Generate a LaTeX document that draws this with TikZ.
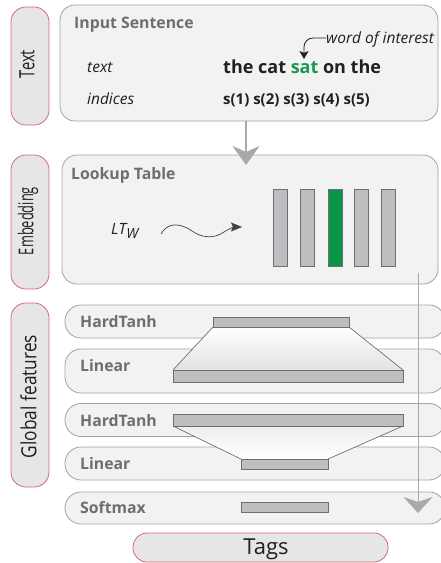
\documentclass[tikz,border=0pt]{standalone}
\usepackage{fontspec}
\setmainfont{Open Sans}
\usepackage{graphicx}
\usetikzlibrary{arrows.meta}
\definecolor{boxfill}{HTML}{F2F2F2}
\definecolor{boxline}{HTML}{A3A3A3}
\definecolor{pillfill}{HTML}{E6E6E7}
\definecolor{pillline}{HTML}{D9656F}
\definecolor{bargrey}{HTML}{BCBEC0}
\definecolor{barline}{HTML}{6D6E71}
\definecolor{labgrey}{HTML}{6D6E71}
\definecolor{arrgrey}{HTML}{A7A9AC}
\definecolor{dgreen}{HTML}{0A9447}
\definecolor{tgreen}{HTML}{1A9A50}
\definecolor{ink}{HTML}{231F20}
\definecolor{trapgrey}{HTML}{E2E2E3}
\begin{document}
\begin{tikzpicture}[x=1pt,y=-1pt,
  sidepill/.style={draw=pillline, fill=pillfill, line width=0.8pt, rounded corners=15pt, inner sep=0pt, outer sep=0pt},
  sidelab/.style={inner sep=0pt, text=ink},
  bigbox/.style={draw=boxline, fill=boxfill, line width=0.8pt, rounded corners=15pt, inner sep=0pt, outer sep=0pt},
  stripe/.style={draw=boxline, fill=boxfill, line width=0.8pt, rounded corners=16pt, inner sep=0pt, outer sep=0pt},
  bar/.style={draw=barline, fill=bargrey, line width=0.6pt, inner sep=0pt, outer sep=0pt},
  ebar/.style={bar, minimum width=14pt, minimum height=77pt},
  title/.style={anchor=base west, inner sep=0pt, text=labgrey, font=\fontsize{15.8}{19}\selectfont\bfseries},
  ital/.style={anchor=base west, inner sep=0pt, text=ink, font=\fontsize{15.5}{18}\selectfont\itshape},
  sent/.style={anchor=base west, inner sep=0pt, text=ink, font=\bfseries},
  bigarrow/.style={draw=arrgrey, line width=1.1pt},
  slant/.style={draw=barline, line width=0.6pt}
]
\useasboundingbox (0,0) rectangle (440,563);

% side pills
\node[sidepill, minimum width=38pt, minimum height=118pt] (ptext) at (30,66) {};
\node[sidepill, minimum width=38pt, minimum height=134pt] (pemb) at (30,222) {};
\node[sidepill, minimum width=38pt, minimum height=184pt] (pglob) at (30,395) {};
\node[sidelab] (ltext) at (27,64) {\rotatebox{90}{\resizebox{28pt}{15pt}{Text}}};
\node[sidelab] (lemb) at (28,221) {\rotatebox{90}{\resizebox{68pt}{15.5pt}{Embedding}}};
\node[sidelab] (lglob) at (28.5,396.5) {\rotatebox{90}{\resizebox{123pt}{16pt}{Global features}}};

% main boxes
\node[bigbox, minimum width=378pt, minimum height=116pt] (tbox) at (249,63) {};
\node[bigbox, minimum width=376pt, minimum height=129pt] (ebox) at (250,219.5) {};

% text box content
\node[title] (tin) at (74,28) {Input Sentence};
\node[ital] (ttext) at (87,72.5) {text};
\node[ital] (tind) at (87,104) {indices};
\node[sent, font=\fontsize{18}{21}\selectfont\bfseries] (tsent) at (223,73) {the cat \textcolor{tgreen}{sat} on the};
\node[sent, font=\fontsize{15}{18}\selectfont\bfseries] (tidx) at (223,104) {s(1) s(2) s(3) s(4) s(5)};
\node[ital, font=\fontsize{15.5}{18}\selectfont\itshape] (woi) at (326,43) {word of interest};
\coordinate (satTop) at (304,59);
\draw[line width=0.8pt, ink, -{Stealth[length=8pt,width=9pt,inset=2pt]}]
  (woi.west |- 0,38) -- (313,38) to[out=180,in=90] (304,47) -- (satTop);

% arrow text -> embedding
\coordinate (a1s) at (246,121);
\coordinate (a1e) at (246,165);
\draw[bigarrow, -{Stealth[length=19pt,width=27pt,inset=6pt]}] (tbox.south -| a1s) -- (a1e);

% embedding content
\node[title] (tlook) at (71,179) {Lookup Table};
\node[ital] (ltw) at (111,234) {LT\raisebox{-4pt}{\fontsize{14}{16}\selectfont W}};
\node[ebar] (e1) at (280.5,227.5) {};
\node[ebar] (e2) at (307,227.5) {};
\node[ebar, fill=dgreen] (e3) at (335,227.5) {};
\node[ebar] (e4) at (361,227.5) {};
\node[ebar] (e5) at (388,227.5) {};
\draw[line width=0.7pt, ink!85, -{Stealth[length=11pt,width=9pt,inset=2pt]}]
  (161,234) .. controls (167,223) and (179,222) .. (192,231)
  .. controls (202,238) and (214,239) .. (224,232)
  .. controls (230,228) and (235,227) .. (242,227);

% stripes
\node[stripe, minimum width=380pt, minimum height=33pt] (s1) at (255,321.5) {};
\node[stripe, minimum width=380pt, minimum height=44pt] (s2) at (255,371) {};
\node[stripe, minimum width=380pt, minimum height=33pt] (s3) at (255,420) {};
\node[stripe, minimum width=380pt, minimum height=33pt] (s4) at (255,463.5) {};
\node[stripe, minimum width=380pt, minimum height=32pt] (s5) at (255,508) {};
\node[title] at (80,327) {HardTanh};
\node[title] at (80,371) {Linear};
\node[title] at (80,426) {HardTanh};
\node[title] at (80,469) {Linear};
\node[title] at (80,513) {Softmax};

% bars
\node[bar, minimum width=136pt, minimum height=10pt] (b1) at (281,322) {};
\node[bar, minimum width=230pt, minimum height=12pt] (b2) at (288,376) {};
\node[bar, minimum width=230pt, minimum height=12pt] (b3) at (288,420) {};
\node[bar, minimum width=87pt, minimum height=10pt] (b4) at (284.5,464) {};
\node[bar, minimum width=87pt, minimum height=10pt] (b5) at (284.5,507) {};

% trapezoids
\fill[top color=white, bottom color=trapgrey] (b1.south west) -- (b1.south east) -- (b2.north east) -- (b2.north west) -- cycle;
\draw[slant] (b1.south west) -- (b2.north west);
\draw[slant] (b1.south east) -- (b2.north east);
\fill[top color=trapgrey!60, bottom color=white] (b3.south west) -- (b3.south east) -- (b4.north east) -- (b4.north west) -- cycle;
\draw[slant] (b3.south west) -- (b4.north west);
\draw[slant] (b3.south east) -- (b4.north east);
\node[bar, minimum width=136pt, minimum height=10pt] at (b1) {};
\node[bar, minimum width=230pt, minimum height=12pt] at (b2) {};
\node[bar, minimum width=230pt, minimum height=12pt] at (b3) {};
\node[bar, minimum width=87pt, minimum height=10pt] at (b4) {};

% long arrow embedding -> softmax
\coordinate (a2s) at (418,273);
\coordinate (a2e) at (418,513);
\draw[draw=arrgrey, line width=0.7pt, -{Stealth[length=16pt,width=29pt,inset=5pt, fill=arrgrey]}] (a2s) -- (a2e);

% tags
\node[sidepill, minimum width=255pt, minimum height=29pt, rounded corners=14pt] (tags) at (260.5,547.5) {};
\node[inner sep=0pt, anchor=base, font=\fontsize{22}{26}\selectfont, text=ink] (tagtext) at (266,554) {Tags};
\end{tikzpicture}
\end{document}
